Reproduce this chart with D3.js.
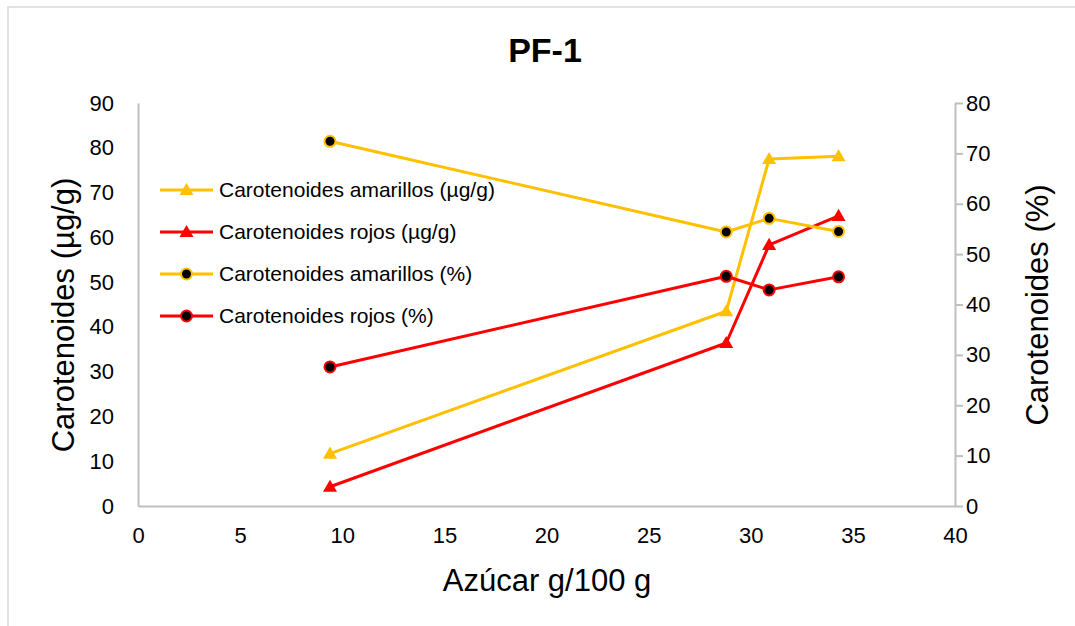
<!DOCTYPE html>
<html>
<head>
<meta charset="utf-8">
<script src="https://cdn.jsdelivr.net/npm/d3@7"></script>
<style>
  html, body { margin: 0; padding: 0; background: #fff; }
  svg { display: block; font-family: "Liberation Sans", Arial, sans-serif; }
</style>
</head>
<body>
<svg id="chart" width="1075" height="626"></svg>
<script>
// Sugar content (g/100 g) for each sample
const azucar = [9.4, 28.8, 30.9, 34.3];

// Carotenoid concentrations (µg/g), left axis
const amarillosUg = [11.7, 43.5, 77.5, 78.1];
const rojosUg     = [4.3, 36.4, 58.3, 64.8];

// Carotenoid shares (%), right axis
const amarillosPct = [72.4, 54.4, 57.1, 54.5];
const rojosPct     = [27.6, 45.6, 42.9, 45.5];

const xTicks      = [0, 5, 10, 15, 20, 25, 30, 35, 40];
const yLeftTicks  = [0, 10, 20, 30, 40, 50, 60, 70, 80, 90];
const yRightTicks = [0, 10, 20, 30, 40, 50, 60, 70, 80];

const AMARILLO = "#FFC000";
const ROJO = "#FF0000";

const series = [
  { name: "Carotenoides amarillos (µg/g)", values: amarillosUg,  color: AMARILLO, marker: "triangle", axis: "left" },
  { name: "Carotenoides rojos (µg/g)",     values: rojosUg,      color: ROJO,     marker: "triangle", axis: "left" },
  { name: "Carotenoides amarillos (%)",    values: amarillosPct, color: AMARILLO, marker: "circle",   axis: "right" },
  { name: "Carotenoides rojos (%)",        values: rojosPct,     color: ROJO,     marker: "circle",   axis: "right" }
];

const svg = d3.select("#chart");
const W = 1075, H = 626;
const plot = { left: 138, right: 955, top: 103, bottom: 506 };

// Chart frame (only top and left edges are within view)
svg.append("path")
  .attr("d", `M8,${H} L8,7 L${W},7`)
  .attr("fill", "none")
  .attr("stroke", "#d9d9d9")
  .attr("stroke-width", 1.5);

const x = d3.scaleLinear().domain([0, 40]).range([plot.left, plot.right]);
const yL = d3.scaleLinear().domain([0, 90]).range([plot.bottom, plot.top]);
const yR = d3.scaleLinear().domain([0, 80]).range([plot.bottom, plot.top]);

const axisColor = "#bfbfbf";
const tickFont = 22;

// X axis
const gx = svg.append("g").attr("transform", `translate(0,${plot.bottom})`)
  .call(d3.axisBottom(x).tickValues(xTicks).tickSize(0).tickPadding(21).tickFormat(d3.format("d")));
gx.select(".domain").attr("stroke", axisColor).attr("stroke-width", 2);
gx.selectAll("text").attr("font-size", tickFont).attr("fill", "#000").attr("font-family", "Liberation Sans, Arial, sans-serif");

// Left Y axis
const gl = svg.append("g").attr("transform", `translate(${plot.left},0)`)
  .call(d3.axisLeft(yL).tickValues(yLeftTicks).tickSize(0).tickPadding(24).tickFormat(d3.format("d")));
gl.select(".domain").attr("stroke", axisColor).attr("stroke-width", 2);
gl.selectAll("text").attr("font-size", tickFont).attr("fill", "#000").attr("font-family", "Liberation Sans, Arial, sans-serif");

// Right Y axis
const gr = svg.append("g").attr("transform", `translate(${plot.right},0)`)
  .call(d3.axisRight(yR).tickValues(yRightTicks).tickSizeOuter(0).tickSizeInner(8).tickPadding(3).tickFormat(d3.format("d")));
gr.select(".domain").attr("stroke", axisColor).attr("stroke-width", 2);
gr.selectAll(".tick line").attr("stroke", axisColor).attr("stroke-width", 2);
gr.selectAll("text").attr("font-size", tickFont).attr("fill", "#000").attr("font-family", "Liberation Sans, Arial, sans-serif");

// Title
svg.append("text")
  .attr("x", 545).attr("y", 62)
  .attr("text-anchor", "middle")
  .attr("font-size", 34).attr("font-weight", "bold")
  .text("PF-1");

// Axis titles
svg.append("text")
  .attr("x", 547).attr("y", 591)
  .attr("text-anchor", "middle")
  .attr("font-size", 31)
  .text("Azúcar g/100 g");

svg.append("text")
  .attr("transform", "translate(74,315) rotate(-90)")
  .attr("text-anchor", "middle")
  .attr("font-size", 31)
  .text("Carotenoides (µg/g)");

svg.append("text")
  .attr("transform", "translate(1048,305) rotate(-90)")
  .attr("text-anchor", "middle")
  .attr("font-size", 31)
  .text("Carotenoides (%)");

const tri = d3.symbol().type(d3.symbolTriangle).size(85);

function drawMarker(g, s, px, py) {
  if (s.marker === "triangle") {
    g.append("path").attr("d", tri).attr("transform", `translate(${px},${py + 1})`).attr("fill", s.color);
  } else {
    g.append("circle").attr("cx", px).attr("cy", py).attr("r", 5.5)
      .attr("fill", "#000").attr("stroke", s.color).attr("stroke-width", 2);
  }
}

// Series lines and markers
const marks = svg.append("g");
series.forEach(s => {
  const y = s.axis === "left" ? yL : yR;
  const pts = azucar.map((a, i) => [x(a), y(s.values[i])]);
  marks.append("path")
    .attr("d", d3.line()(pts))
    .attr("fill", "none").attr("stroke", s.color).attr("stroke-width", 3)
    .attr("stroke-linejoin", "round");
});
series.forEach(s => {
  const y = s.axis === "left" ? yL : yR;
  const g = marks.append("g");
  azucar.forEach((a, i) => drawMarker(g, s, x(a), y(s.values[i])));
});

// Legend
const legend = svg.append("g");
const rowY = [190, 232, 274, 316];
series.forEach((s, i) => {
  const g = legend.append("g").attr("transform", `translate(0,${rowY[i]})`);
  g.append("line").attr("x1", 160).attr("x2", 213).attr("y1", 0).attr("y2", 0)
    .attr("stroke", s.color).attr("stroke-width", 3);
  drawMarker(g, s, 186.5, 0);
  g.append("text").attr("x", 219).attr("y", 0).attr("dy", "0.35em")
    .attr("font-size", 21).text(s.name);
});
</script>
</body>
</html>
